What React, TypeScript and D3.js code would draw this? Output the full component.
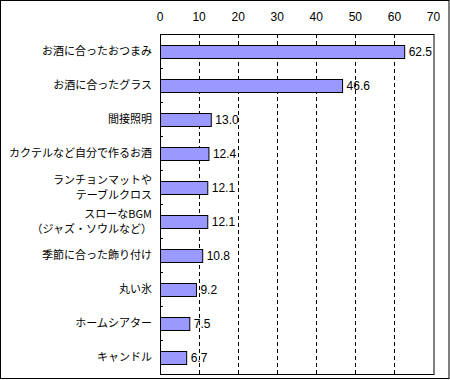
import React from "react";
import * as d3 from "d3";

const categories: string[][] = [
  ["お酒に合ったおつまみ"],
  ["お酒に合ったグラス"],
  ["間接照明"],
  ["カクテルなど自分で作るお酒"],
  ["ランチョンマットや", "テーブルクロス"],
  ["スローなBGM", "（ジャズ・ソウルなど）"],
  ["季節に合った飾り付け"],
  ["丸い氷"],
  ["ホームシアター"],
  ["キャンドル"],
];
const values: number[] = [62.5, 46.6, 13.0, 12.4, 12.1, 12.1, 10.8, 9.2, 7.5, 6.7];
const ticks: number[] = [0, 10, 20, 30, 40, 50, 60, 70];

export default function App() {
  const W = 450, H = 380;
  const left = 160, right = 433.5, top = 34, bottom = 374;
  const x = d3.scaleLinear().domain([0, 70]).range([left, right]);
  const idx = categories.map((_, i) => String(i));
  const y = d3.scaleBand().domain(idx).range([top, bottom]).paddingInner(0.62).paddingOuter(0.31);
  const band = d3.scaleBand().domain(idx).range([top, bottom]);
  const font = "'Noto Sans CJK JP', 'Noto Sans', sans-serif";
  const numFont = "'Liberation Sans', Arial, sans-serif";
  return (
    <svg width={W} height={H} style={{ position: "absolute", left: 0, top: 0 }} fontFamily={font}>
      <rect x={0} y={0} width={W} height={H} fill="#fff" />
      <rect x={0.5} y={0.5} width={448.5} height={378} fill="none" stroke="#000" strokeWidth={1} />
      {ticks.slice(1, -1).map((t) => (
        <line key={"g" + t} x1={Math.round(x(t)) + 0.5} x2={Math.round(x(t)) + 0.5} y1={top} y2={bottom}
          stroke="#000" strokeWidth={1} strokeDasharray="4,3" />
      ))}
      {ticks.map((t) => (
        <text key={"t" + t} x={x(t)} y={21} textAnchor="middle" fontSize={12} fontFamily={numFont}>{t}</text>
      ))}
      {idx.slice(1).map((k) => (
        <line key={"yt" + k} x1={left} x2={left + 3} y1={Math.round(band(k)!) + 0.5} y2={Math.round(band(k)!) + 0.5}
          stroke="#000" strokeWidth={1} />
      ))}
      <rect x={left + 0.5} y={top + 0.5} width={Math.round(right - left) - 0.5} height={bottom - top}
        fill="none" stroke="#000" strokeWidth={1} />
      {values.map((v, i) => {
        const yy = y(String(i))!;
        const h = y.bandwidth();
        return (
          <g key={"b" + i}>
            <rect x={left + 0.5} y={Math.round(yy) + 0.5} width={x(v) - left} height={Math.round(h)}
              fill="#9999FF" stroke="#000" strokeWidth={1} />
            <text x={x(v) + 4.5} y={yy + h / 2 + 4.5} fontSize={12} fontFamily={numFont}>{v.toFixed(1)}</text>
          </g>
        );
      })}
      {categories.map((lines, i) => {
        const c = band(String(i))! + band.bandwidth() / 2;
        const lh = 15;
        return (
          <text key={"c" + i} textAnchor="end" fontSize={11}>
            {lines.map((l, j) => (
              <tspan key={j} x={152} y={c + 4 + (j - (lines.length - 1) / 2) * lh}>{l}</tspan>
            ))}
          </text>
        );
      })}
    </svg>
  );
}
